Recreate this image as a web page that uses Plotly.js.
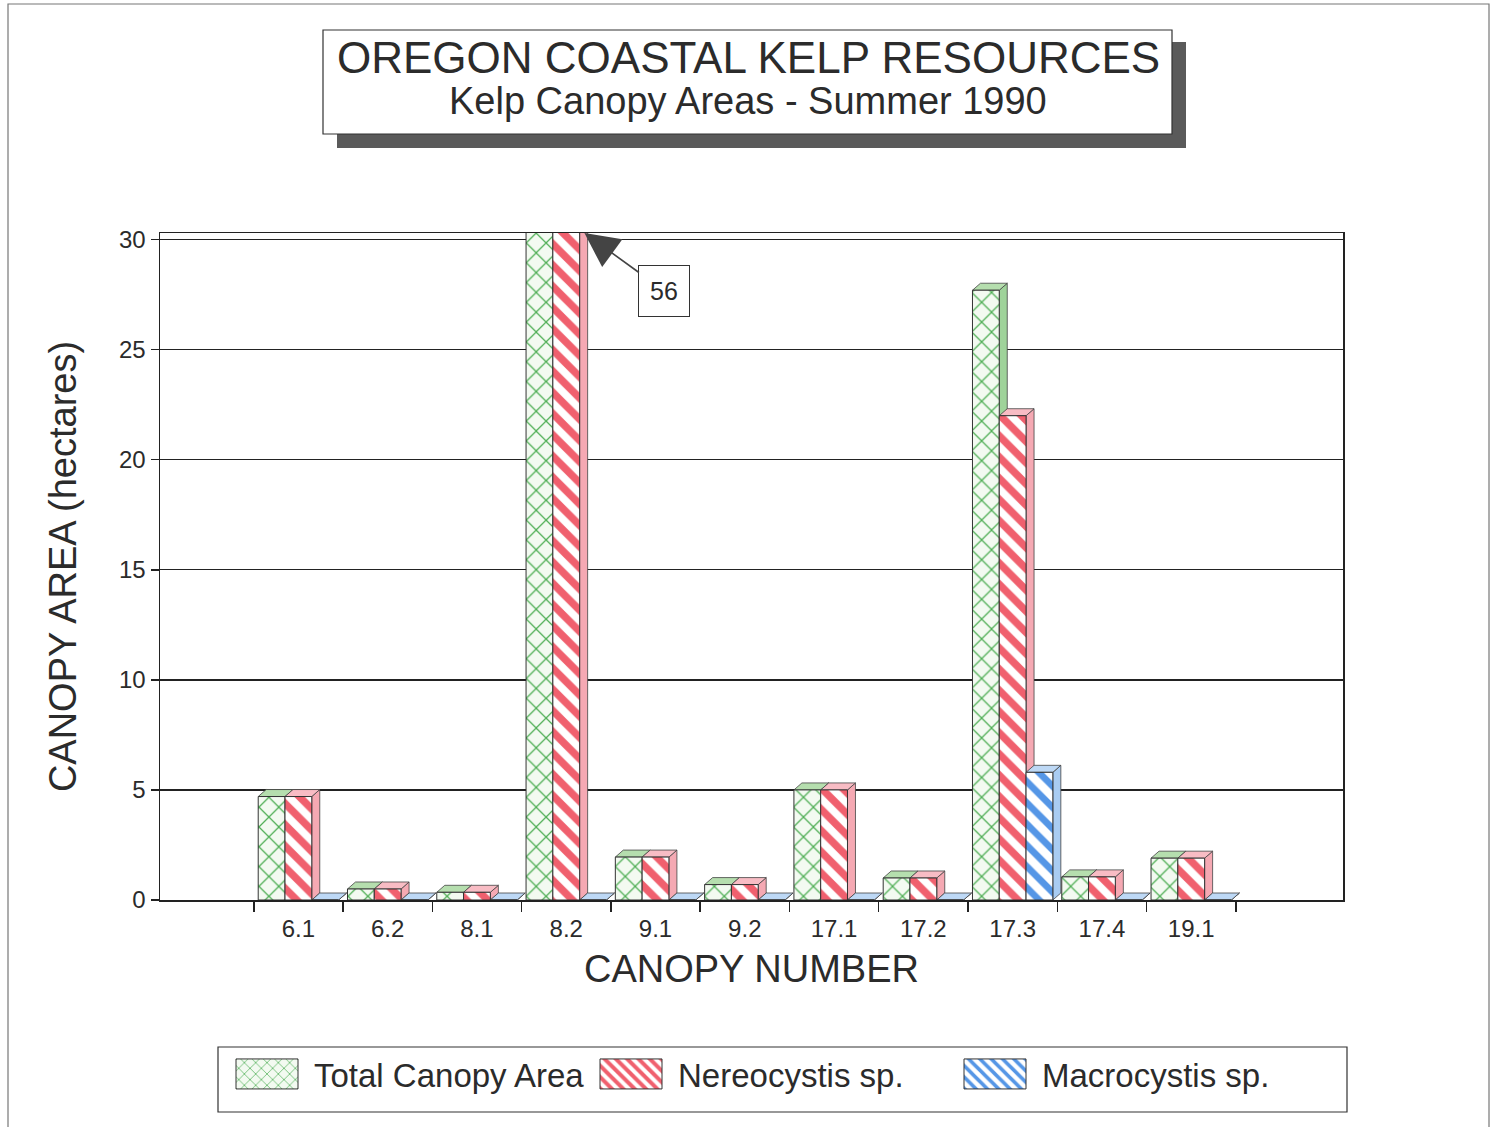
<!DOCTYPE html>
<html>
<head>
<meta charset="utf-8">
<script src="https://cdn.plot.ly/plotly-3.0.1.min.js"></script>
<style>
  html, body { margin: 0; padding: 0; background: #fff; }
  #chart { width: 1493px; height: 1127px; }
</style>
</head>
<body>
<div id="chart"></div>
<script>
// ---- data ----
var categories = ['6.1', '6.2', '8.1', '8.2', '9.1', '9.2', '17.1', '17.2', '17.3', '17.4', '19.1'];
var totalCanopy = [4.7, 0.5, 0.35, 56, 1.95, 0.7, 5.0, 1.0, 27.7, 1.05, 1.9];
var nereocystis = [4.7, 0.5, 0.35, 56, 1.95, 0.7, 5.0, 1.0, 22.0, 1.05, 1.9];
var macrocystis = [0, 0, 0, 0, 0, 0, 0, 0, 5.8, 0, 0];
var seriesNames = ['Total Canopy Area', 'Nereocystis sp.', 'Macrocystis sp.'];
var yTicks = [0, 5, 10, 15, 20, 25, 30];
var offscaleLabel = '56';

// ---- styling ----
var FONT = 'Liberation Sans, Arial, Helvetica, sans-serif';
var TXT = '#2b2b2b';
var W = 1493, H = 1127;
var M = {l: 160, r: 150, t: 233, b: 227};
var PW = W - M.l - M.r, PH = H - M.t - M.b;
var YMAX = 30.3;
var XR = [-1.55, 11.7];
var BARGAP = 0.1;
function px2paperX(px) { return (px - M.l) / PW; }
function px2paperY(py) { return (H - M.b - py) / PH; }

var idx = categories.map(function (c, i) { return i; });
var seriesVals = [totalCanopy, nereocystis, macrocystis];
var styles = [
  {fg: '#4fae55', bg: '#f3faf1', shape: 'x', size: 14, sol: 0.17, side: '#9fd39a', top: '#b5deae'},
  {fg: '#f0606e', bg: '#ffffff', shape: '\\', size: 15, sol: 0.5, side: '#f5a9b3', top: '#f8bcc4'},
  {fg: '#5596e6', bg: '#ffffff', shape: '\\', size: 15, sol: 0.45, side: '#a9ccf2', top: '#bdd8f5'}
];

var traces = seriesVals.map(function (vals, j) {
  var s = styles[j];
  return {
    type: 'bar', name: seriesNames[j], x: idx, y: vals,
    marker: {
      color: s.bg,
      line: {color: '#333', width: 1},
      pattern: {shape: s.shape, fgcolor: s.fg, bgcolor: s.bg, size: s.size, solidity: s.sol}
    },
    hoverinfo: 'x+y'
  };
});

// 3D side / top faces derived from the data values
var bw = (1 - BARGAP) / 3;
var dx = 8 / (PW / (XR[1] - XR[0]));
var dy = 7 / (PH / YMAX);
var shapes = [];
seriesVals.forEach(function (vals, j) {
  var s = styles[j];
  vals.forEach(function (v, i) {
    var c = i + (j - 1) * bw;
    var L = c - bw / 2, R = c + bw / 2;
    var capped = v > YMAX;
    var top = capped ? YMAX + 1 : v;
    shapes.push({
      type: 'path', xref: 'x', yref: 'y', layer: 'between',
      path: 'M' + R + ',0 L' + R + ',' + top + ' L' + (R + dx) + ',' + (top + dy) + ' L' + (R + dx) + ',' + dy + ' Z',
      fillcolor: s.side, line: {color: '#444', width: 0.8}
    });
    if (!capped) {
      shapes.push({
        type: 'path', xref: 'x', yref: 'y', layer: 'between',
        path: 'M' + L + ',' + v + ' L' + R + ',' + v + ' L' + (R + dx) + ',' + (v + dy) + ' L' + (L + dx) + ',' + (v + dy) + ' Z',
        fillcolor: s.top, line: {color: '#444', width: 0.8}
      });
    }
  });
});

// title box with shadow
shapes.push({type: 'rect', xref: 'paper', yref: 'paper', layer: 'above',
  x0: px2paperX(337), x1: px2paperX(1186), y0: px2paperY(148), y1: px2paperY(42),
  fillcolor: '#5a5a5a', line: {width: 0}});
shapes.push({type: 'rect', xref: 'paper', yref: 'paper', layer: 'above',
  x0: px2paperX(323), x1: px2paperX(1172), y0: px2paperY(134), y1: px2paperY(30),
  fillcolor: '#ffffff', line: {color: '#333', width: 1.2}});
// legend box
shapes.push({type: 'rect', xref: 'paper', yref: 'paper', layer: 'below',
  x0: px2paperX(218), x1: px2paperX(1347), y0: px2paperY(1112), y1: px2paperY(1047),
  fillcolor: 'rgba(0,0,0,0)', line: {color: '#333', width: 1.2}});
// page border
shapes.push({type: 'rect', xref: 'paper', yref: 'paper', layer: 'below',
  x0: px2paperX(8), x1: px2paperX(1489), y0: px2paperY(1135), y1: px2paperY(4),
  fillcolor: 'rgba(0,0,0,0)', line: {color: '#777', width: 1.2}});

var annotations = [
  {xref: 'paper', yref: 'paper', x: px2paperX(748), y: px2paperY(58), xanchor: 'center', yanchor: 'middle',
   showarrow: false, text: 'OREGON COASTAL KELP RESOURCES', font: {family: FONT, size: 44, color: TXT}},
  {xref: 'paper', yref: 'paper', x: px2paperX(748), y: px2paperY(101), xanchor: 'center', yanchor: 'middle',
   showarrow: false, text: 'Kelp Canopy Areas - Summer 1990', font: {family: FONT, size: 38, color: TXT}},
  {xref: 'x', yref: 'y', x: 3 + bw / 2 + dx * 0.6, y: YMAX, ax: 80, ay: 58,
   text: offscaleLabel, showarrow: true, arrowhead: 2, arrowsize: 4.3, arrowwidth: 1.6,
   arrowcolor: '#444', standoff: 0,
   font: {family: FONT, size: 25, color: TXT}, bgcolor: '#fff', bordercolor: '#333',
   borderwidth: 1, borderpad: 11}
];

var layout = {
  width: W, height: H,
  margin: M,
  paper_bgcolor: '#fff', plot_bgcolor: '#fff',
  font: {family: FONT, color: TXT},
  barmode: 'group', bargap: BARGAP, bargroupgap: 0,
  showlegend: true,
  legend: {
    orientation: 'h', x: px2paperX(220), xanchor: 'left', y: px2paperY(1074), yanchor: 'middle',
    font: {family: FONT, size: 33, color: TXT}, itemwidth: 84,
    entrywidth: 265, entrywidthmode: 'pixels',
    bgcolor: 'rgba(0,0,0,0)', borderwidth: 0, traceorder: 'normal'
  },
  xaxis: {
    range: XR, showgrid: false, zeroline: false,
    tickvals: idx, ticktext: categories, ticks: '', ticklen: 0, ticklabelstandoff: 7,
    tickfont: {family: FONT, size: 24, color: TXT},
    minor: {tickvals: idx.map(function (i) { return i - 0.5; }).concat([idx.length - 0.5]),
            ticks: 'outside', ticklen: 10, tickcolor: '#222', tickwidth: 1.5, showgrid: false},
    showline: true, linecolor: '#222', linewidth: 1.5, mirror: true,
    title: {text: 'CANOPY NUMBER', font: {family: FONT, size: 38, color: TXT}, standoff: 14}
  },
  yaxis: {
    range: [0, YMAX], tickvals: yTicks, ticks: 'outside', ticklen: 8, tickcolor: '#222', tickwidth: 1.5,
    tickfont: {family: FONT, size: 24, color: TXT},
    showgrid: true, gridcolor: '#222', gridwidth: 1.3, zeroline: false,
    showline: true, linecolor: '#222', linewidth: 1.5, mirror: true,
    title: {text: 'CANOPY AREA (hectares)', font: {family: FONT, size: 38, color: TXT}, standoff: 30}
  },
  shapes: shapes,
  annotations: annotations
};

Plotly.newPlot('chart', traces, layout, {displayModeBar: false, staticPlot: true}).then(function (gd) {
  gd.querySelectorAll('.legend .legendpoints path').forEach(function (p) {
    p.setAttribute('d', 'M31,15H-31V-15H31Z');
  });
});
</script>
</body>
</html>
